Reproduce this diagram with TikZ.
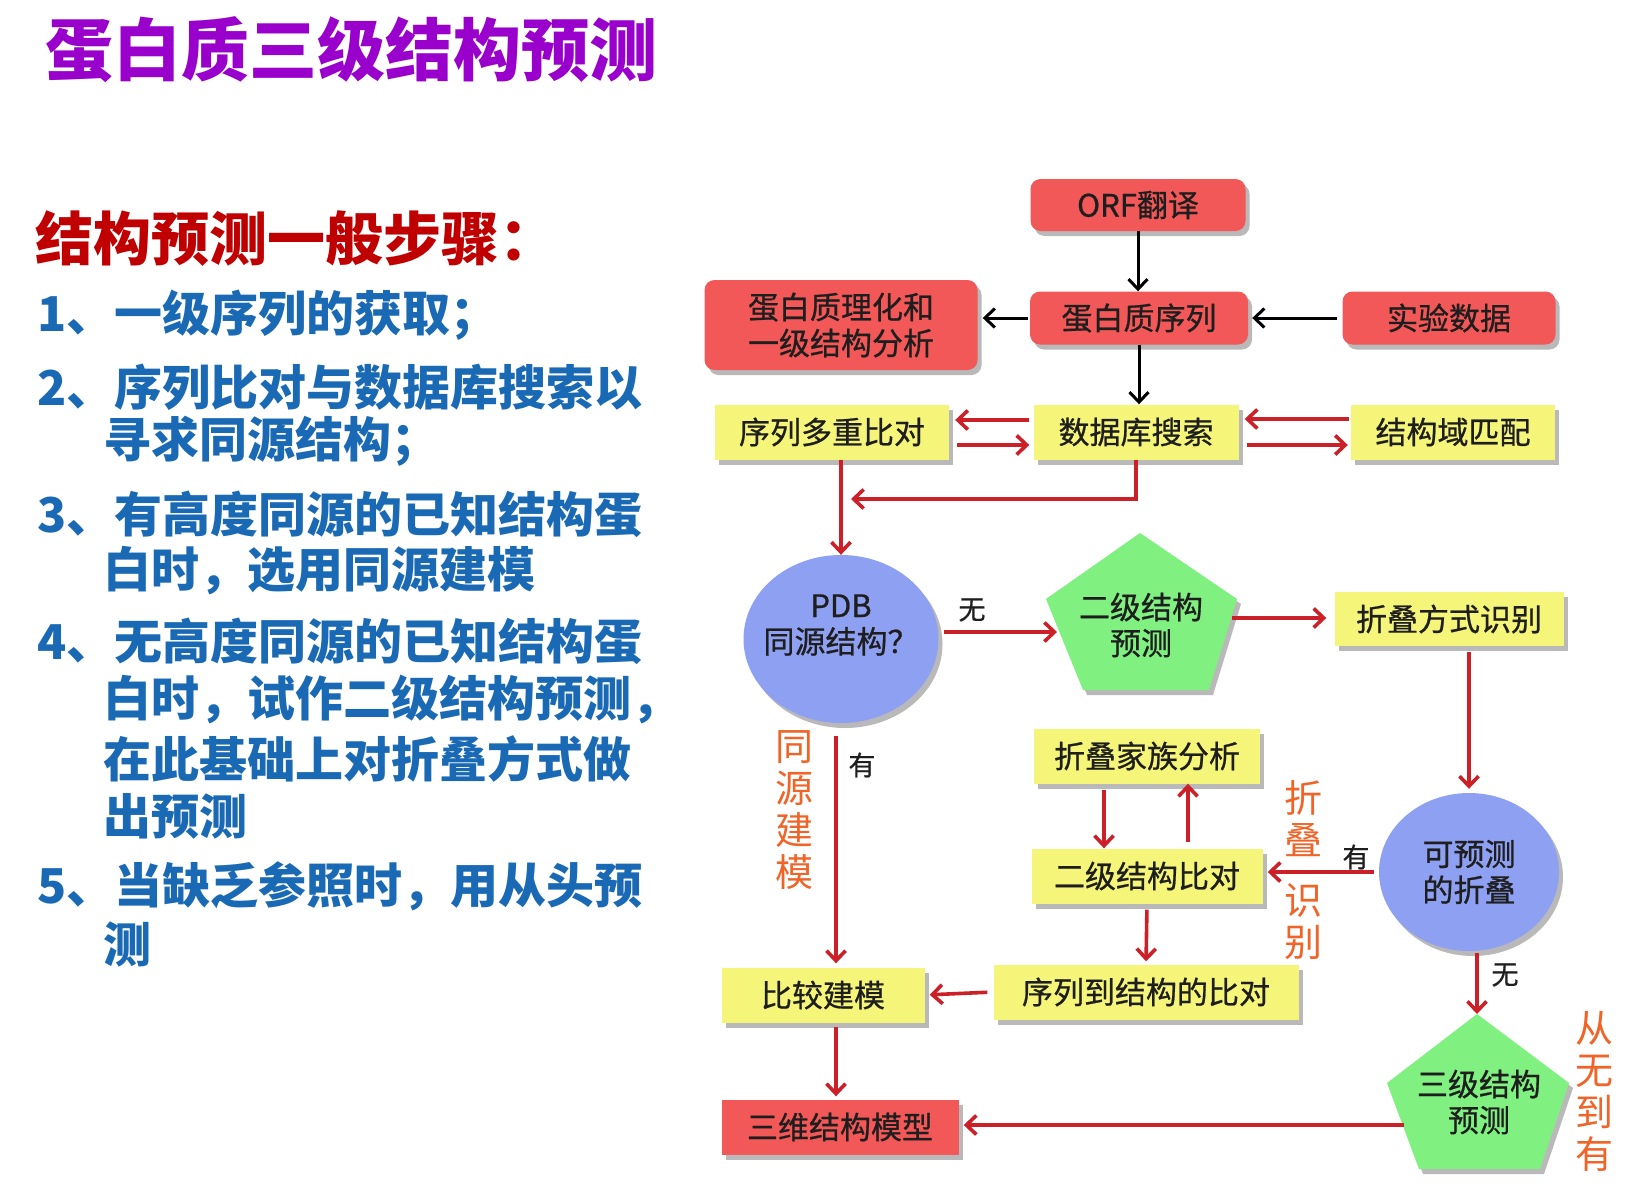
\documentclass[tikz,border=0pt]{standalone}
\usepackage{fontspec}
\setmainfont{Noto Sans CJK SC}
\newfontfamily\boxfont[FakeBold=0.7]{Noto Sans CJK SC}
\usetikzlibrary{arrows.meta,shapes.geometric,shadows,calc}
\definecolor{titlepurple}{RGB}{153,0,204}
\definecolor{subred}{RGB}{192,0,0}
\definecolor{stepblue}{RGB}{25,105,180}
\definecolor{boxred}{RGB}{242,88,88}
\definecolor{boxyellow}{RGB}{245,245,122}
\definecolor{pentgreen}{RGB}{128,240,128}
\definecolor{ellblue}{RGB}{142,160,242}
\definecolor{arrred}{RGB}{204,32,40}
\definecolor{labelorange}{RGB}{240,100,40}
\definecolor{textdark}{RGB}{30,30,30}
\begin{document}
\begin{tikzpicture}[x=1pt,y=-1pt,
  shade/.style={drop shadow={shadow xshift=4pt,shadow yshift=-5pt,fill=black!50,opacity=0.55}},
  boxtext/.style={font=\boxfont\fontsize{31}{36}\selectfont, text=textdark, align=center, inner sep=0pt},
  redbox/.style={boxtext, fill=boxred, rounded corners=10pt, shade},
  yelbox/.style={boxtext, fill=boxyellow, shade},
  ell/.style={boxtext, ellipse, fill=ellblue, shade},
  pent/.style={fill=pentgreen, shade},
  arr/.style={draw=arrred, line width=3.6pt, -{Straight Barb[length=10pt,width=19pt,line width=3.6pt]}},
  barr/.style={draw=black, line width=3pt, -{Straight Barb[length=10pt,width=19pt,line width=3pt]}},
  lab/.style={font=\boxfont\fontsize{27}{30}\selectfont, text=textdark, inner sep=0pt},
  olab/.style={font=\fontsize{38}{42}\selectfont, text=labelorange, align=center, inner sep=0pt},
  stepline/.style={font=\fontsize{48}{50}\selectfont\bfseries, text=stepblue, anchor=west, inner sep=0pt},
]
\useasboundingbox (0,0) rectangle (1648,1199);
\fill[white] (0,0) rectangle (1648,1199);

% ---- left text ----
\node[font=\fontsize{68}{72}\selectfont\bfseries, text=titlepurple, anchor=west, inner sep=0pt] (title) at (45,50) {蛋白质三级结构预测};
\node[font=\fontsize{58}{62}\selectfont\bfseries, text=subred, anchor=west, inner sep=0pt] (sub) at (35,239) {结构预测一般步骤：};
\node[stepline] (l1) at (37,315) {1、一级序列的获取；};
\node[stepline] (l2) at (37,387) {2、序列比对与数据库搜索以};
\node[stepline] (l2b) at (103,441) {寻求同源结构；};
\node[stepline] (l3) at (37,514) {3、有高度同源的已知结构蛋};
\node[stepline] (l3b) at (103,571) {白时，选用同源建模};
\node[stepline] (l4) at (37,641) {4、无高度同源的已知结构蛋};
\node[stepline] (l4b) at (103,699) {白时，试作二级结构预测，};
\node[stepline] (l4c) at (103,759) {在此基础上对折叠方式做};
\node[stepline] (l4d) at (103,816) {出预测};
\node[stepline] (l5) at (37,886) {5、当缺乏参照时，用从头预};
\node[stepline] (l5b) at (103,944) {测};

% ---- boxes ----
\node[redbox, minimum width=215pt, minimum height=52pt] (orf) at (1138,205) {ORF翻译};
\node[redbox, minimum width=218pt, minimum height=53pt] (seq) at (1139,318) {蛋白质序列};
\node[redbox, minimum width=273pt, minimum height=90pt] (phys) at (841,325) {蛋白质理化和\\一级结构分析};
\node[redbox, minimum width=213pt, minimum height=53pt] (exp) at (1449,318) {实验数据};
\node[yelbox, minimum width=234pt, minimum height=55pt] (msa) at (832,432) {序列多重比对};
\node[yelbox, minimum width=205pt, minimum height=55pt] (db) at (1136,432) {数据库搜索};
\node[yelbox, minimum width=204pt, minimum height=55pt] (dom) at (1453,432) {结构域匹配};
\node[ell, minimum width=195pt, minimum height=168pt] (pdb) at (841,639) {};
\node[boxtext] (pdbt) at (841,625) {PDB\\同源结构？};
\fill[pent] (1140,533) -- (1237,599) -- (1209,690) -- (1083,690) -- (1046,599) -- cycle;
\node[boxtext] (ss) at (1141,625) {二级结构\\预测};
\node[yelbox, minimum width=229pt, minimum height=54pt] (fold) at (1449,619) {折叠方式识别};
\node[ell, minimum width=180pt, minimum height=158pt] (pf) at (1469,872) {可预测\\的折叠};
\node[yelbox, minimum width=226pt, minimum height=55pt] (fam) at (1147,756) {折叠家族分析};
\node[yelbox, minimum width=231pt, minimum height=55pt] (ssc) at (1147,876) {二级结构比对};
\node[yelbox, minimum width=305pt, minimum height=55pt] (s2s) at (1146,992) {序列到结构的比对};
\node[yelbox, minimum width=203pt, minimum height=55pt] (cm) at (823,995) {比较建模};
\fill[pent] (1477,1014) -- (1569,1083) -- (1540,1169) -- (1419,1169) -- (1387,1083) -- cycle;
\node[boxtext] (ts) at (1479,1102) {三级结构\\预测};
\node[boxtext, fill=boxred, shade, minimum width=237pt, minimum height=55pt] (m3d) at (840,1127) {三维结构模型};

% ---- coordinates on free ends ----
\coordinate (j1) at (851,499);
\coordinate (ssL) at (1057,632);
\coordinate (ssR) at (1232,618);
\coordinate (v1) at (836,736);
\coordinate (tsTop) at (1477,1014);
\coordinate (tsL) at (1404,1125);

% ---- black connectors ----
\draw[barr] (orf.south) -- (orf.south |- seq.north);
\draw[barr, shorten <=2pt, shorten >=5pt] (seq.west) -- (seq.west -| phys.east);
\draw[barr, shorten <=5pt, shorten >=4pt] (exp.west) -- (seq.east);
\draw[barr] (seq.south) -- (seq.south |- db.north);

% ---- red connectors ----
\draw[arr, shorten <=4pt, shorten >=6pt] ([yshift=12pt]db.west) -- ([yshift=12pt]msa.east);
\draw[arr, shorten <=8pt, shorten >=4pt] ([yshift=-13pt]msa.east) -- ([yshift=-13pt]db.west);
\draw[arr, shorten <=2pt, shorten >=6pt] ([yshift=13pt]dom.west) -- ([yshift=13pt]db.east);
\draw[arr, shorten <=8pt, shorten >=3pt] ([yshift=-13pt]db.east) -- ([yshift=-13pt]dom.west);
\draw[arr] (db.south) |- (j1);
\draw[arr] (msa.south -| pdb.north) -- (pdb.north);
\draw[arr, shorten <=5pt] ([yshift=7pt]pdb.east) -- (ssL);
\draw[arr, shorten >=8pt] (ssR) -- (ssR -| fold.west);
\draw[arr, shorten <=6pt, shorten >=4pt] (fold.south -| pf.north) -- (pf.north);
\draw[arr, shorten <=5pt, shorten >=5pt] (pf.west) -- (pf.west -| ssc.east);
\draw[arr, shorten <=6pt] ([xshift=-43pt]fam.south) -- ([xshift=-43pt]ssc.north);
\draw[arr, shorten <=6pt] ([xshift=41pt]ssc.north) -- ([xshift=41pt]fam.south);
\draw[arr, shorten <=6pt, shorten >=3pt] (ssc.south) -- (s2s.north);
\draw[arr, shorten <=6pt, shorten >=5pt] (s2s.west) -- (cm.east);
\draw[arr, shorten >=4pt] (v1) -- (v1 |- cm.north);
\draw[arr, shorten <=4pt, shorten >=3pt] (cm.south -| v1) -- (m3d.north -| v1);
\draw[arr, shorten <=2pt] (pf.south -| tsTop) -- (tsTop);
\draw[arr, shorten >=5pt] (tsL) -- (tsL -| m3d.east);

% ---- labels ----
\node[lab] (wu1) at (972,610) {无};
\node[lab] (you1) at (862,765) {有};
\node[lab] (you2) at (1356,857) {有};
\node[lab] (wu2) at (1505,975) {无};
\node[olab] (tyjm) at (794,810) {同\\源\\建\\模};
\node[olab] (zd) at (1303,819) {折\\叠};
\node[olab] (sb) at (1303,922) {识\\别};
\node[olab] (cwdy) at (1594,1091) {从\\无\\到\\有};
\end{tikzpicture}
\end{document}
